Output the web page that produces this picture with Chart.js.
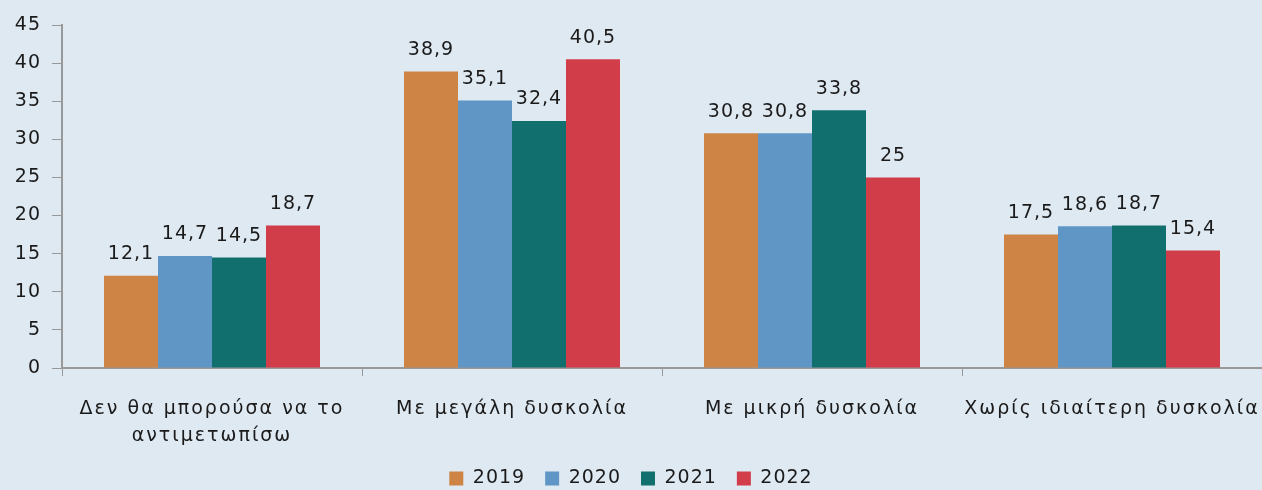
<!DOCTYPE html>
<html>
<head>
<meta charset="utf-8">
<script src="https://cdn.jsdelivr.net/npm/chart.js@4/dist/chart.umd.min.js"></script>
<style>
html,body{margin:0;padding:0;background:#dfe9f2;}
#wrap{width:1262px;height:490px;position:relative;}
</style>
</head>
<body>
<div id="wrap"><canvas id="c" width="1262" height="490"></canvas></div>
<script>
const categories = [["Δεν θα μπορούσα να το","αντιμετωπίσω"],"Με μεγάλη δυσκολία","Με μικρή δυσκολία","Χωρίς ιδιαίτερη δυσκολία"];
const seriesNames = ["2019","2020","2021","2022"];
const values2019 = [12.1, 38.9, 30.8, 17.5];
const values2020 = [14.7, 35.1, 30.8, 18.6];
const values2021 = [14.5, 32.4, 33.8, 18.7];
const values2022 = [18.7, 40.5, 25, 15.4];
const colors = ["#cd8445","#5f96c6","#11706e","#d13d48"];

const FONT = "'DejaVu Sans', sans-serif";
const NUM_SP = '1px';
const TXT_SP = '2px';
const LEGEND_H = 41;

const spacing = {
  id:'spacing',
  beforeUpdate(chart){
    chart.ctx.letterSpacing = NUM_SP;
    const lg = chart.legend;
    if (lg && !lg._patched) {
      const of = lg.fit;
      lg.fit = function(){ of.call(this); this.height = LEGEND_H; };
      lg._patched = true;
    }
  },
  beforeDraw(chart){
    chart.ctx.letterSpacing = NUM_SP;
    const x = chart.scales.x;
    if (x && !x._patched) {
      const orig = x.drawLabels;
      x.drawLabels = function(a){
        const c = this.ctx; const prev = c.letterSpacing;
        c.letterSpacing = TXT_SP; orig.call(this, a); c.letterSpacing = prev;
      };
      x._patched = true;
    }
  }
};

const valueLabels = {
  id:'valueLabels',
  afterDatasetsDraw(chart){
    const ctx = chart.ctx;
    ctx.save();
    ctx.font = "19px " + FONT;
    ctx.letterSpacing = NUM_SP;
    ctx.fillStyle = "#1a1a1a";
    ctx.textAlign = "center";
    ctx.textBaseline = "bottom";
    chart.data.datasets.forEach((ds,i)=>{
      const meta = chart.getDatasetMeta(i);
      meta.data.forEach((bar,j)=>{
        const v = ds.data[j];
        const txt = String(v).replace('.',',');
        ctx.fillText(txt, bar.x, bar.y - 12);
      });
    });
    ctx.restore();
  }
};

new Chart(document.getElementById('c'), {
  type:'bar',
  data:{
    labels: categories,
    datasets:[values2019,values2020,values2021,values2022].map((d,i)=>({
      label: seriesNames[i], data: d, backgroundColor: colors[i], borderWidth:0
    }))
  },
  options:{
    responsive:false,
    animation:false,
    devicePixelRatio:1,
    layout:{padding:{top:25,right:0,left:0,bottom:0}},
    datasets:{bar:{categoryPercentage:0.72, barPercentage:1.0}},
    plugins:{
      legend:{position:'bottom', labels:{font:{family:FONT,size:19}, color:'#1a1a1a', boxWidth:14, boxHeight:14, padding:20}},
      tooltip:{enabled:false}
    },
    scales:{
      x:{
        beforeCalculateLabelRotation(s){ s.ctx.letterSpacing = TXT_SP; },
        beforeFit(s){ s.ctx.letterSpacing = TXT_SP; },
        afterFit(s){ s.height = 490 - LEGEND_H - 368; s.paddingLeft = 0; s.paddingRight = 0; s.ctx.letterSpacing = NUM_SP; },
        grid:{display:true, drawOnChartArea:false, offset:true, color:'#999', tickLength:8},
        border:{color:'#999', width:2},
        ticks:{font:{family:FONT,size:19, lineHeight:1.42}, color:'#1a1a1a', maxRotation:0, padding:20}
      },
      y:{
        min:0, max:45,
        beforeCalculateLabelRotation(s){ s.ctx.letterSpacing = NUM_SP; },
        afterFit(s){ s.width = 62; },
        grid:{display:true, drawOnChartArea:false, color:'#999', tickLength:10},
        border:{color:'#999', width:2},
        ticks:{stepSize:5, font:{family:FONT,size:19}, color:'#1a1a1a', padding:11}
      }
    }
  },
  plugins:[spacing, valueLabels]
});
</script>
</body>
</html>
